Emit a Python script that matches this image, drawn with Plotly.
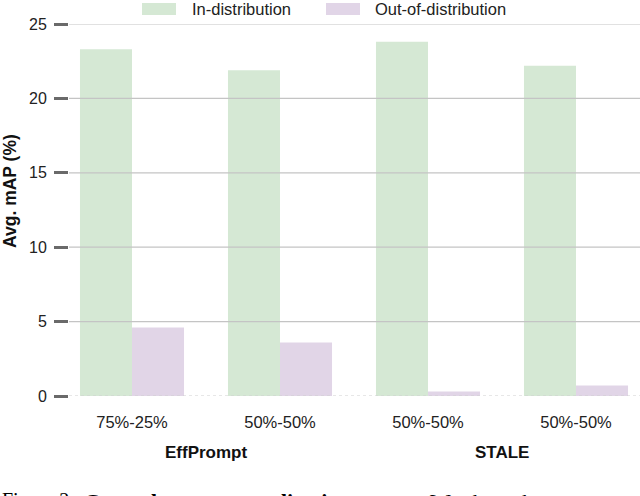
import plotly.graph_objects as go

# ---- data ----
settings = ["75%-25%", "50%-50%", "50%-50%", "50%-50%"]
methods = ["EffPrompt", "STALE"]
method_members = [[0, 1], [2, 3]]
series_names = ["In-distribution", "Out-of-distribution"]
in_dist = [23.3, 21.9, 23.8, 22.2]
out_dist = [4.6, 3.6, 0.3, 0.7]
y_ticks = [0, 5, 10, 15, 20, 25]
caption_parts = ["Figure 2:", "<b>Cross-dataset generalization.</b>", "We show the"]

colors = ["#d5e8d4", "#e1d5e7"]
FONT = "Liberation Sans, Arial, Helvetica, sans-serif"
SERIF = "Liberation Serif, Times New Roman, serif"

W, H = 640, 496
L, T = 69, 24
PLOT_BOTTOM = 396
B = H - PLOT_BOTTOM
R = 0
pw = W - L - R
ph = H - T - B


def sx(xs):
    return (xs - L) / pw


def sy(ys):
    return (PLOT_BOTTOM - ys) / ph


idx = list(range(len(settings)))

fig = go.Figure()
for name, vals, col in zip(series_names, [in_dist, out_dist], colors):
    fig.add_trace(go.Bar(x=idx, y=vals, name=name, marker=dict(color=col, line=dict(width=0)),
                         showlegend=False, hoverinfo="skip"))

shapes = []
for t in y_ticks:
    shapes.append(dict(type="line", xref="paper", yref="y", x0=0, x1=1, y0=t, y1=t,
                       layer="above",
                       line=dict(color="#c4c4c4" if t else "#d0d0d0", width=1.2,
                                 dash="solid" if t else "dot")))

# manual legend (swatch left, swatch right, text left) in screen px
legend_x = [(142, 176, 190), (326, 360, 373)]
annotations = []
for (x0, x1, tx), name, col in zip(legend_x, series_names, colors):
    shapes.append(dict(type="rect", xref="paper", yref="paper", x0=sx(x0), x1=sx(x1),
                       y0=sy(15), y1=sy(3), fillcolor=col, line=dict(width=0), layer="above"))
    annotations.append(dict(text=name, xref="paper", yref="paper", x=sx(tx), y=sy(9.5),
                            xanchor="left", yanchor="middle", showarrow=False,
                            font=dict(family=FONT, size=16.5, color="#222")))

for m, members in zip(methods, method_members):
    annotations.append(dict(text="<b>%s</b>" % m, xref="x", yref="paper",
                            x=sum(members) / len(members), y=sy(452),
                            xanchor="center", yanchor="middle", showarrow=False,
                            font=dict(family=FONT, size=17, color="#111")))

annotations.append(dict(text="<b>Avg. mAP (%)</b>", textangle=-90, xref="paper", yref="paper",
                        x=sx(10), y=sy(191), xanchor="center", yanchor="middle", showarrow=False,
                        font=dict(family=FONT, size=17.5, color="#111")))

cap_x = [0, 82, 428]
cap_size = [20, 22, 22]
for txt, cx, cs in zip(caption_parts, cap_x, cap_size):
    annotations.append(dict(text=txt, xref="paper", yref="paper", x=sx(cx), y=sy(487),
                            xanchor="left", yanchor="top", showarrow=False,
                            font=dict(family=SERIF, size=cs, color="#000")))

fig.update_layout(
    width=W, height=H,
    margin=dict(l=L, r=R, t=T, b=B, pad=0),
    paper_bgcolor="white", plot_bgcolor="white",
    barmode="group", bargap=0.297, bargroupgap=0,
    font=dict(family=FONT, size=16, color="#222"),
    shapes=shapes, annotations=annotations,
    hovermode=False,
    xaxis=dict(range=[-0.4257, -0.4257 + pw / 148.0], tickvals=idx, ticktext=settings,
               showgrid=False, zeroline=False, showline=False, ticks="", ticklabelstandoff=14,
               tickfont=dict(family=FONT, size=16.5, color="#222")),
    yaxis=dict(range=[0, 25], tickvals=y_ticks, ticks="outside", ticklen=14, tickwidth=2.5,
               tickcolor="#6a6a6a", showgrid=False, zeroline=False, showline=False,
               ticklabelstandoff=4,
               tickfont=dict(family=FONT, size=16, color="#222")),
)

fig.write_html("out.html", config={"displayModeBar": False},
               post_script="document.body.style.margin='0';document.body.style.overflow='hidden';")
